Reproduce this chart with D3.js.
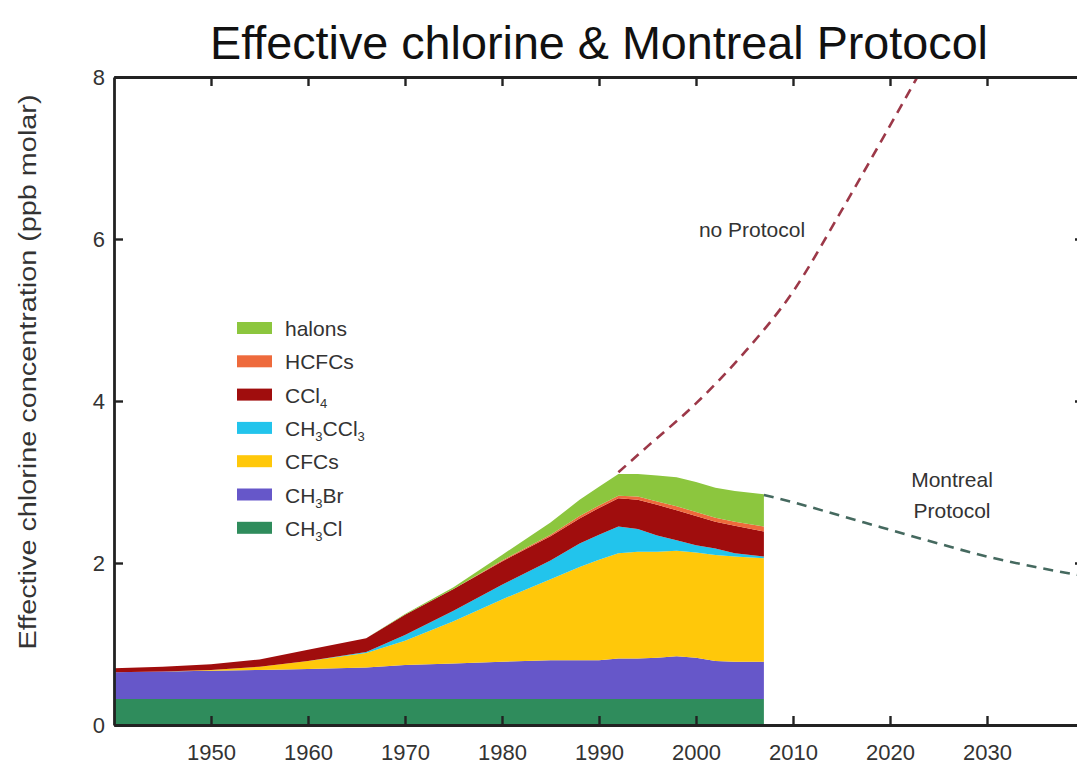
<!DOCTYPE html>
<html>
<head>
<meta charset="utf-8">
<script src="https://cdn.jsdelivr.net/npm/d3@7"></script>
<style>
  html, body { margin: 0; padding: 0; background: #fff; }
  svg { display: block; font-family: "Liberation Sans", Arial, sans-serif; }
</style>
</head>
<body>
<svg id="chart" width="1077" height="765"></svg>
<script>
// Stacked effective chlorine contributions (ppb)
const years   = [1940, 1945, 1950, 1955, 1960, 1966, 1970, 1975, 1980, 1985, 1988, 1990, 1992, 1994, 1996, 1998, 2000, 2002, 2004, 2007];
const ch3cl   = [0.32, 0.32, 0.32, 0.32, 0.32, 0.32, 0.32, 0.32, 0.32, 0.32, 0.32, 0.32, 0.32, 0.32, 0.32, 0.32, 0.32, 0.32, 0.32, 0.32];
const ch3br   = [0.33, 0.34, 0.35, 0.36, 0.37, 0.39, 0.42, 0.44, 0.46, 0.48, 0.48, 0.48, 0.50, 0.50, 0.51, 0.53, 0.51, 0.47, 0.46, 0.46];
const cfcs    = [0.00, 0.00, 0.01, 0.04, 0.10, 0.18, 0.30, 0.52, 0.77, 1.00, 1.15, 1.24, 1.30, 1.32, 1.31, 1.30, 1.30, 1.31, 1.30, 1.28];
const ch3ccl3 = [0.00, 0.00, 0.00, 0.00, 0.00, 0.01, 0.07, 0.13, 0.18, 0.23, 0.29, 0.31, 0.33, 0.28, 0.20, 0.13, 0.09, 0.08, 0.04, 0.02];
const ccl4    = [0.05, 0.06, 0.07, 0.09, 0.14, 0.17, 0.25, 0.27, 0.29, 0.30, 0.31, 0.33, 0.35, 0.36, 0.38, 0.37, 0.36, 0.33, 0.34, 0.31];
const hcfcs   = [0.00, 0.00, 0.00, 0.00, 0.00, 0.00, 0.00, 0.00, 0.01, 0.02, 0.03, 0.03, 0.03, 0.04, 0.04, 0.05, 0.05, 0.05, 0.05, 0.06];
const halons  = [0.00, 0.00, 0.00, 0.00, 0.00, 0.00, 0.01, 0.02, 0.07, 0.15, 0.20, 0.23, 0.27, 0.28, 0.32, 0.36, 0.37, 0.37, 0.38, 0.40];

// Projections
const noProtocolYears = [1992, 1995, 2000, 2005, 2010, 2015, 2020, 2024];
const noProtocol      = [3.12, 3.44, 3.97, 4.60, 5.35, 6.35, 7.40, 8.25];
const montrealYears   = [2007, 2010, 2015, 2020, 2025, 2030, 2035, 2040];
const montreal        = [2.84, 2.75, 2.58, 2.41, 2.24, 2.08, 1.95, 1.84];

// Series, bottom of stack first
const seriesKeys   = ['CH3Cl', 'CH3Br', 'CFCs', 'CH3CCl3', 'CCl4', 'HCFCs', 'halons'];
const seriesValues = [ch3cl, ch3br, cfcs, ch3ccl3, ccl4, hcfcs, halons];
const seriesColors = ['#2f8c5c', '#6657c9', '#ffc80a', '#22c4ec', '#a00d0d', '#ee6a3c', '#8cc63e'];

const xTicks = [1950, 1960, 1970, 1980, 1990, 2000, 2010, 2020, 2030];
const yTicks = [0, 2, 4, 6, 8];

const svg = d3.select('#chart');
const plotLeft = 114, plotRight = 1084, plotTop = 77, plotBottom = 725;

const x = d3.scaleLinear().domain([1940, 2040]).range([plotLeft, plotRight]);
const y = d3.scaleLinear().domain([0, 8]).range([plotBottom, plotTop]);

// Build table for the stack
const table = years.map((yr, i) => {
    const row = { year: yr };
    seriesKeys.forEach((k, j) => { row[k] = seriesValues[j][i]; });
    return row;
});
const stacked = d3.stack().keys(seriesKeys)(table);

svg.append('clipPath').attr('id', 'plot-clip')
    .append('rect')
    .attr('x', plotLeft).attr('y', plotTop)
    .attr('width', plotRight - plotLeft).attr('height', plotBottom - plotTop);

const plot = svg.append('g').attr('clip-path', 'url(#plot-clip)');

const area = d3.area()
    .x(d => x(d.data.year))
    .y0(d => y(d[0]))
    .y1(d => y(d[1]));

plot.selectAll('path.layer')
    .data(stacked)
    .enter()
    .append('path')
    .attr('class', 'layer')
    .attr('fill', (d, i) => seriesColors[i])
    .attr('d', area);

// Dashed projection lines
const line = d3.line().curve(d3.curveMonotoneX);

plot.append('path')
    .attr('d', line(noProtocolYears.map((yr, i) => [x(yr), y(noProtocol[i])])))
    .attr('fill', 'none')
    .attr('stroke', '#9c3848')
    .attr('stroke-width', 2.6)
    .attr('stroke-dasharray', '10,7');

plot.append('path')
    .attr('d', line(montrealYears.map((yr, i) => [x(yr), y(montreal[i])])))
    .attr('fill', 'none')
    .attr('stroke', '#45695f')
    .attr('stroke-width', 2.6)
    .attr('stroke-dasharray', '10,7');

// Axes frame with inward ticks
const axisColor = '#222';

const xAxis = svg.append('g')
    .attr('transform', `translate(0,${plotBottom})`)
    .call(d3.axisBottom(x).tickValues(xTicks).tickFormat(d3.format('d'))
        .tickSizeInner(-9).tickSizeOuter(0).tickPadding(19));

const xAxisTop = svg.append('g')
    .attr('transform', `translate(0,${plotTop})`)
    .call(d3.axisTop(x).tickValues(xTicks).tickFormat('')
        .tickSizeInner(-9).tickSizeOuter(0));

const yAxis = svg.append('g')
    .attr('transform', `translate(${plotLeft},0)`)
    .call(d3.axisLeft(y).tickValues(yTicks).tickFormat(d3.format('d'))
        .tickSizeInner(-9).tickSizeOuter(0).tickPadding(9));

const yAxisRight = svg.append('g')
    .attr('transform', `translate(${plotRight},0)`)
    .call(d3.axisRight(y).tickValues(yTicks).tickFormat('')
        .tickSizeInner(-9).tickSizeOuter(0));

[xAxis, xAxisTop, yAxis, yAxisRight].forEach(ax => {
    ax.select('.domain').attr('stroke', axisColor).attr('stroke-width', 2.8);
    ax.selectAll('.tick line').attr('stroke', axisColor).attr('stroke-width', 2.4);
    ax.selectAll('.tick text')
        .attr('fill', '#333')
        .attr('font-size', '22px')
        .attr('font-family', '"Liberation Sans", Arial, sans-serif');
});

// Title
svg.append('text')
    .attr('x', 599)
    .attr('y', 59)
    .attr('text-anchor', 'middle')
    .attr('font-size', '46px')
    .attr('fill', '#111')
    .attr('textLength', 778)
    .attr('lengthAdjust', 'spacingAndGlyphs')
    .text('Effective chlorine & Montreal Protocol');

// Y axis title
svg.append('text')
    .attr('transform', 'translate(36,372) rotate(-90)')
    .attr('text-anchor', 'middle')
    .attr('font-size', '23px')
    .attr('fill', '#333')
    .attr('textLength', 555)
    .attr('lengthAdjust', 'spacingAndGlyphs')
    .text('Effective chlorine concentration (ppb molar)');

// Curve labels
svg.append('text')
    .attr('x', 752).attr('y', 237)
    .attr('text-anchor', 'middle')
    .attr('font-size', '21px')
    .attr('fill', '#333')
    .text('no Protocol');

svg.append('text')
    .attr('x', 952).attr('y', 487)
    .attr('text-anchor', 'middle')
    .attr('font-size', '21px')
    .attr('fill', '#333')
    .text('Montreal');

svg.append('text')
    .attr('x', 952).attr('y', 518)
    .attr('text-anchor', 'middle')
    .attr('font-size', '21px')
    .attr('fill', '#333')
    .text('Protocol');

// Legend, top of stack first; parts are [text, isSubscript]
const legendItems = [
    { color: '#8cc63e', parts: [['halons', false]] },
    { color: '#ee6a3c', parts: [['HCFCs', false]] },
    { color: '#a00d0d', parts: [['CCl', false], ['4', true]] },
    { color: '#22c4ec', parts: [['CH', false], ['3', true], ['CCl', false], ['3', true]] },
    { color: '#ffc80a', parts: [['CFCs', false]] },
    { color: '#6657c9', parts: [['CH', false], ['3', true], ['Br', false]] },
    { color: '#2f8c5c', parts: [['CH', false], ['3', true], ['Cl', false]] }
];

const legend = svg.append('g').attr('transform', 'translate(237,328)');

const rows = legend.selectAll('g')
    .data(legendItems)
    .enter()
    .append('g')
    .attr('transform', (d, i) => `translate(0,${i * 33.3})`);

rows.append('rect')
    .attr('x', 0).attr('y', -6)
    .attr('width', 35).attr('height', 12)
    .attr('fill', d => d.color);

rows.append('text')
    .attr('x', 48).attr('y', 8)
    .attr('font-size', '21px')
    .attr('fill', '#333')
    .each(function(d) {
        const t = d3.select(this);
        d.parts.forEach(([s, sub], k) => {
            const prevSub = k > 0 && d.parts[k - 1][1];
            const span = t.append('tspan').text(s);
            if (sub) span.attr('font-size', '13px').attr('dy', 5);
            else if (prevSub) span.attr('dy', -5);
        });
    });
</script>
</body>
</html>
